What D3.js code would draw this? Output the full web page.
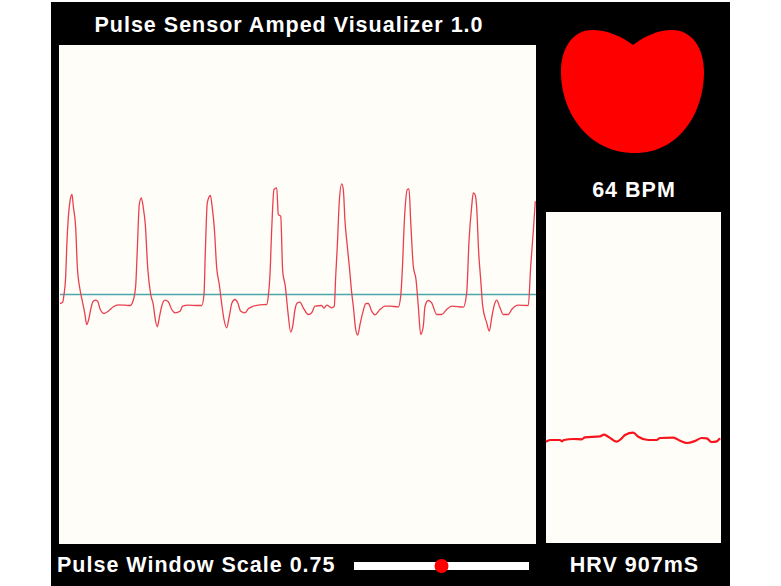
<!DOCTYPE html>
<html>
<head>
<meta charset="utf-8">
<script src="https://cdn.jsdelivr.net/npm/d3@7"></script>
<style>
  html, body { margin: 0; padding: 0; background: #fff; overflow: hidden; }
  svg { display: block; }
  text { font-family: "Liberation Sans", Arial, sans-serif; font-weight: bold; fill: #fff; letter-spacing: 1px; }
</style>
</head>
<body>
<svg width="781" height="586"></svg>
<script>
const titleText = "Pulse Sensor Amped Visualizer 1.0";
const bpmValue = 64;
const hrvValue = 907;
const windowScale = 0.75;

// pulse trace, signal is relative to the teal midline
const pulseTime = [0,2.7,4,5.7,6.7,8.3,10,12,13.3,15.7,17.3,20,22.7,24.7,26.7,28.7,30.7,32.7,35.3,37.7,40,44,48.3,53.3,58.3,65,70,73.3,75.7,77.3,79.3,81.3,83.3,85.3,87.7,90.7,93.3,95.3,97.3,99.3,101.7,105,108.3,111.7,115,120,122.7,128.3,136.7,141.7,144,145.3,147.3,150.3,152.3,154.3,156.7,159.3,162,164,166.7,169.3,172,175,177.7,180.7,185,188.3,193.3,200,206.7,208.3,210,211.7,214,216.7,218.3,220.7,222.7,225.3,228,230.7,232.7,235,237.3,240,243.3,248.3,251.7,255,261.7,264,266.7,271.7,274.3,275.7,277.3,279.3,281.7,283.3,285,287.3,289.3,291.7,293.3,295.7,297.7,300,302.7,306,308.3,311.7,315,320,325,330,338.3,340.7,342,344.7,347.3,349,350.7,353.3,356,358.3,360.7,363.3,365,368.3,371.7,376.7,381.7,386.7,391.7,403.3,406.7,409,411.7,413.3,415,416.7,418.7,420.7,422.7,426.7,429.3,431.7,434,436.7,440,443.3,448.3,451.7,458.3,468.3,470.7,473.3,475.3];
const pulseSignal = [-9,-7.7,0,18.3,46.7,76.7,93.3,100,88.3,66.7,28.3,5,-8.3,-18.3,-30,-25,-15,-7.7,-5.7,-6.7,-14.3,-19,-16.7,-12.3,-10.3,-10.7,-11,-5.7,9,45,90,96.7,86.7,70,26.7,0,-10,-25,-32.3,-23.3,-11.7,-5.7,-7.3,-15,-18.3,-16.7,-11.7,-10.7,-11,-11,0,41.7,91.7,99,86.7,66.7,26.7,10,-11.7,-25,-33.3,-21.7,-8.3,-5,-8.3,-16.7,-18.3,-14.3,-11.7,-10.3,-10,-1.7,20,65,105,106.7,80,78.3,23.3,8.3,-18.3,-37.7,-31.7,-15,-8.3,-7.7,-13.3,-20,-18.3,-11.7,-11,-13.7,-10.7,-13.3,-11.7,18.3,48.3,93.3,110.7,105,73.3,48.3,28.3,1.7,-11.7,-35,-40.7,-30,-18.3,-9,-9,-16.7,-20.3,-15,-11.7,-11.7,-12.3,-1.7,18.3,80,105,105.7,73.3,28.3,15,-11.7,-40,-31.7,-11.7,-6,-8.3,-20,-20,-15,-11.7,-12.7,1.7,53.3,88.3,101.7,100,86.7,41.7,15,-11.7,-28.3,-36.7,-23.3,-11.7,-5.7,-13.3,-20,-20,-15,-10.7,-11,28.3,63.3,93.3];

// beat to beat interval trace in ms
const hrvTime = [0,4,14,15.7,18,27.3,35.7,39,54,58,62.3,70.7,75.7,79,87.3,92.3,102.3,110.7,114,127.3,134,140.7,149,155.7,160.7,165.7,170,174];
const hrvMs = [903.3,905,905,903.7,905,906,905.7,907.7,908.7,910.3,908.3,903.3,906.7,910,912.3,908.3,905,905,907,907.3,904.3,902,904,907,906.7,903,903.3,906.7];

// heart outline as bezier segments: c1x, c1y, c2x, c2y, x, y
const heartStart = [633, 45];
const heartCurves = [
    [621, 36, 607, 30, 592, 30],
    [573, 30, 561, 48, 561, 72],
    [561, 112, 588, 153, 635, 153],
    [680, 153, 704, 112, 704, 72],
    [704, 48, 692, 30, 672, 30],
    [658, 30, 645, 36, 633, 45]
];

const svg = d3.select("svg");

const frame = { left: 51, right: 730, top: 2, bottom: 586 };
const main = { left: 59, right: 536, top: 45, bottom: 544 };
const side = { left: 546, right: 721, top: 212, bottom: 543 };
const slider = { left: 354, right: 529, top: 562, bottom: 570 };

svg.append("rect")
    .attr("x", frame.left).attr("y", frame.top)
    .attr("width", frame.right - frame.left).attr("height", frame.bottom - frame.top)
    .attr("fill", "#000");

function panel(p) {
    svg.append("rect")
        .attr("x", p.left).attr("y", p.top)
        .attr("width", p.right - p.left).attr("height", p.bottom - p.top)
        .attr("fill", "#fffdf8");
}
panel(main);
panel(side);

const x = d3.scaleLinear().domain([0, 476]).range([main.left + 1, main.right]);
const y = d3.scaleLinear().domain([-249.5, 249.5]).range([main.bottom, main.top]);

const midY = y(0);
svg.append("line")
    .attr("x1", x(0)).attr("x2", x(476))
    .attr("y1", midY).attr("y2", midY)
    .attr("stroke", "#4aa8ad")
    .attr("stroke-width", 1.6);

const pulseLine = d3.line()
    .x(d => x(pulseTime[d]))
    .y(d => y(pulseSignal[d]))
    .curve(d3.curveMonotoneX);

svg.append("path")
    .attr("d", pulseLine(d3.range(pulseTime.length)))
    .attr("fill", "none")
    .attr("stroke", "#e8404f")
    .attr("stroke-width", 1.3);

const hrvX = d3.scaleLinear().domain([0, 174]).range([side.left, side.right - 1]);
const hrvY = d3.scaleLinear().domain([802, 1133]).range([side.bottom, side.top]);

const hrvLine = d3.line()
    .x(d => hrvX(hrvTime[d]))
    .y(d => hrvY(hrvMs[d]))
    .curve(d3.curveMonotoneX);

svg.append("path")
    .attr("d", hrvLine(d3.range(hrvTime.length)))
    .attr("fill", "none")
    .attr("stroke", "#f8141c")
    .attr("stroke-width", 2.2);

// heart
const heart = d3.path();
heart.moveTo(heartStart[0], heartStart[1]);
heartCurves.forEach(c => heart.bezierCurveTo(c[0], c[1], c[2], c[3], c[4], c[5]));
heart.closePath();

svg.append("path")
    .attr("d", heart.toString())
    .attr("fill", "#ff0000");

// slider
const sliderX = d3.scaleLinear().domain([0, 1.5]).range([slider.left, slider.right]);
svg.append("rect")
    .attr("x", slider.left).attr("y", slider.top)
    .attr("width", slider.right - slider.left).attr("height", slider.bottom - slider.top)
    .attr("fill", "#fff");
svg.append("circle")
    .attr("cx", sliderX(windowScale)).attr("cy", 566)
    .attr("r", 7)
    .attr("fill", "#ff0000");

// labels
function label(str, px, py, size, anchor) {
    svg.append("text")
        .attr("x", px).attr("y", py)
        .attr("text-anchor", anchor)
        .style("font-size", size + "px")
        .text(str);
}
label(titleText, 289, 32, 21.5, "middle");
label(`${bpmValue} BPM`, 634, 197, 21.5, "middle");
label(`Pulse Window Scale ${windowScale}`, 57, 572, 21.5, "start");
label(`HRV ${hrvValue}mS`, 634.5, 572, 21.5, "middle");
</script>
</body>
</html>
